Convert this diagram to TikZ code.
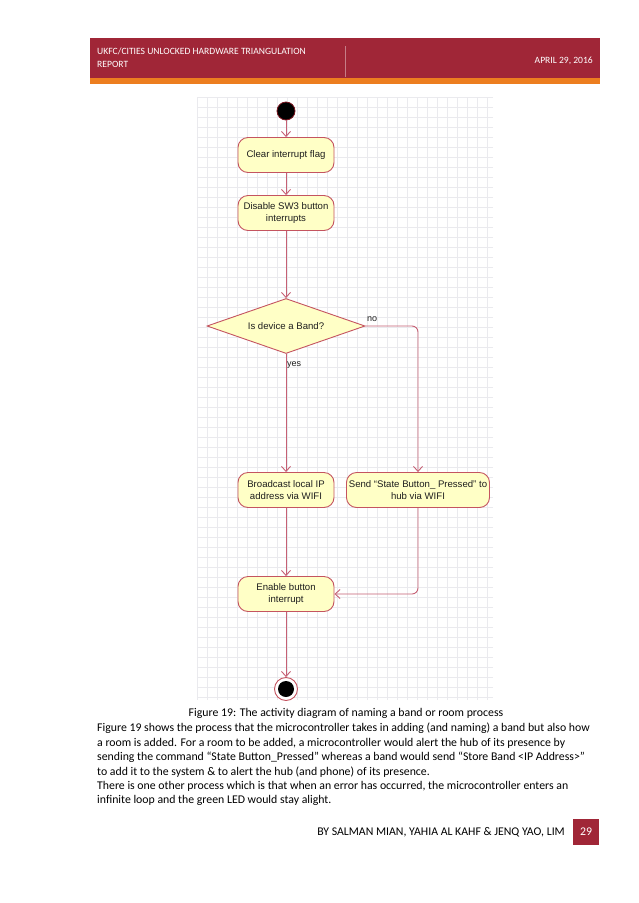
\documentclass[tikz,border=0pt]{standalone}
\usepackage{fontspec}
\setmainfont{Carlito}
\newfontfamily\diagfont{Liberation Sans}
\usetikzlibrary{arrows.meta,shapes.geometric}
\definecolor{hdrred}{RGB}{160,38,55}
\definecolor{hdrorange}{RGB}{236,126,32}
\definecolor{boxfill}{RGB}{255,255,198}
\definecolor{boxline}{RGB}{196,84,96}
\definecolor{arrowc}{RGB}{198,96,116}
\definecolor{gridc}{RGB}{234,234,238}
\definecolor{startred}{RGB}{120,20,30}
\definecolor{txt}{RGB}{30,30,30}
\tikzset{
  actbox/.style={draw=boxline, fill=boxfill, line width=0.9pt, rounded corners=10pt,
    minimum width=96pt, minimum height=35pt, inner sep=2pt, align=center,
    font=\diagfont\fontsize{9.6}{11.6}\selectfont, text=txt},
  decbox/.style={draw=boxline, fill=boxfill, line width=0.9pt, diamond, aspect=2.87,
    minimum width=158pt, minimum height=55pt, inner sep=0pt,
    font=\diagfont\fontsize{9.6}{11.6}\selectfont, text=txt},
  flow/.style={draw=arrowc, line width=0.9pt, -{Straight Barb[length=5pt,width=9pt]}},
  lbl/.style={font=\diagfont\fontsize{9}{11}\selectfont, text=txt, inner sep=0pt},
  body/.style={anchor=west, inner sep=0pt, font=\fontsize{11.8}{14}\selectfont, text=black},
  hdr/.style={inner sep=0pt, text=white, font=\fontsize{9.6}{12}\selectfont}
}
\begin{document}
\begin{tikzpicture}[x=1pt,y=-1pt]
\useasboundingbox (0,0) rectangle (639,903);
\fill[white] (0,0) rectangle (639,903);
% header
\fill[hdrred] (90,38) rectangle (600,78);
\fill[hdrorange] (90,78) rectangle (600,84);
\draw[hdrred!60!white, line width=0.5pt] (345,46) -- (345,77);
\node[hdr, anchor=west] (htitle) at (97,51) {UKFC/CITIES UNLOCKED HARDWARE TRIANGULATION};
\node[hdr, anchor=west] (hreport) at (97,64) {REPORT};
\node[hdr, anchor=east] (hdate) at (593,61) {APRIL 29, 2016};
% grid
\foreach \gx in {197,207,...,493} \draw[gridc, line width=0.5pt] (\gx,97) -- (\gx,700);
\foreach \gy in {97,107,...,700} \draw[gridc, line width=0.5pt] (197,\gy) -- (493,\gy);
% nodes
\node[circle, fill=black, draw=startred, line width=0.8pt, minimum size=18pt, inner sep=0pt] (start) at (286,111) {};
\node[actbox] (clear) at (286,155) {Clear interrupt flag};
\node[actbox] (disable) at (286,213) {Disable SW3 button\\interrupts};
\node[decbox] (dec) at (286,326) {Is device a Band?};
\node[actbox] (bcast) at (286,490) {Broadcast local IP\\address via WIFI};
\node[actbox, minimum width=143pt] (send) at (418,490) {Send “State Button\_ Pressed” to\\hub via WIFI};
\node[actbox] (enable) at (286,594) {Enable button\\interrupt};
\node[circle, draw=boxline, fill=white, line width=0.9pt, minimum size=23pt, inner sep=0pt] (endo) at (286,689) {};
\node[circle, fill=black, minimum size=16pt, inner sep=0pt] (endi) at (286,689) {};
% labels
\node[lbl, anchor=west] (nolbl) at (367,319) {no};
\node[lbl, anchor=west] (yeslbl) at (287,365) {yes};
% connectors
\draw[flow] (start) -- (clear);
\draw[flow] (clear) -- (disable);
\draw[flow] (disable) -- (dec);
\draw[flow] (dec.south) -- (bcast.north);
\draw[flow, rounded corners=6pt] (dec.east) -| (send.north);
\draw[flow] (bcast) -- (enable);
\draw[flow, rounded corners=6pt] (send.south) |- (enable.east);
\draw[flow] (enable) -- (endo);
% caption and body
\node[inner sep=0pt, font=\fontsize{11.8}{14}\selectfont] (caption) at (346,713) {Figure 19: The activity diagram of naming a band or room process};
\node[body] (l1) at (97,728) {Figure 19 shows the process that the microcontroller takes in adding (and naming) a band but also how};
\node[body] (l2) at (97,743) {a room is added. For a room to be added, a microcontroller would alert the hub of its presence by};
\node[body] (l3) at (97,757) {sending the command “State Button\_Pressed” whereas a band would send “Store Band <IP Address>”};
\node[body] (l4) at (97,772) {to add it to the system \& to alert the hub (and phone) of its presence.};
\node[body] (l5) at (97,786) {There is one other process which is that when an error has occurred, the microcontroller enters an};
\node[body] (l6) at (97,800) {infinite loop and the green LED would stay alight.};
% footer
\node[inner sep=0pt, anchor=east, font=\fontsize{11.8}{14}\selectfont] (footer) at (565,832) {BY SALMAN MIAN, YAHIA AL KAHF \& JENQ YAO, LIM};
\fill[hdrred] (573,819) rectangle (599,845);
\node[inner sep=0pt, text=white, font=\fontsize{11.8}{14}\selectfont] (pnum) at (586,832) {29};
\end{tikzpicture}
\end{document}
